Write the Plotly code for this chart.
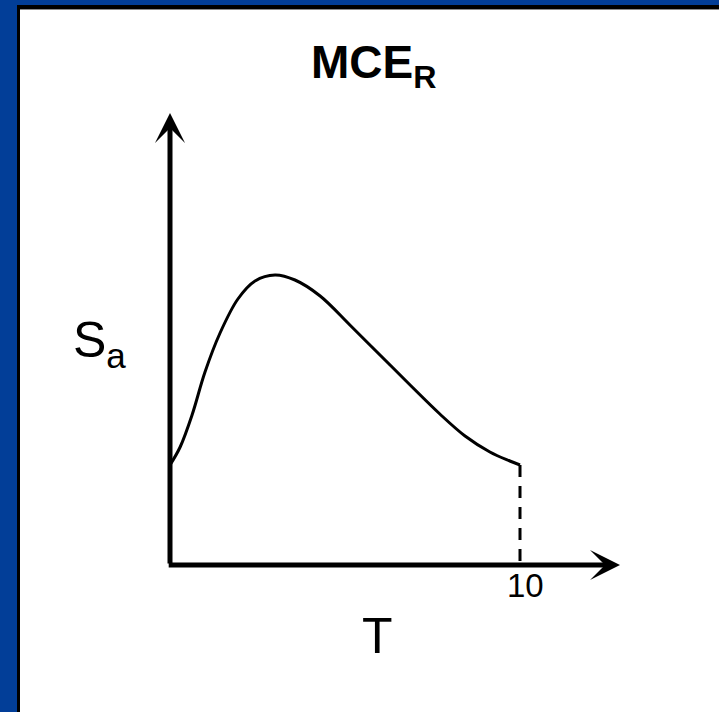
import plotly.graph_objects as go

# response spectrum sketch (T in s, Sa arbitrary units)
period = [0, 0.29, 0.63, 1.0, 1.43, 1.94, 2.43, 3.0, 3.57, 4.29, 5.14,
          6.0, 6.86, 7.71, 8.43, 9.14, 9.71, 10]
sa = [1.00, 1.18, 1.50, 1.93, 2.32, 2.66, 2.84, 2.90, 2.85, 2.69, 2.40,
      2.10, 1.80, 1.51, 1.29, 1.13, 1.04, 1.00]
tick_labels = ["10"]
tick_vals = [10]

W, H = 719, 712
# pixel scale: 35 px per T unit, 100 px per Sa unit, origin at (170, 565)
x0_px, y0_px, sx, sy = 170, 565, 35, 100
xr = [-x0_px / sx, (W - x0_px) / sx]
yr = [(y0_px - H) / sy, y0_px / sy]

fig = go.Figure()

fig.add_trace(go.Scatter(
    x=period, y=sa, mode="lines",
    line=dict(color="black", width=3, shape="spline", smoothing=1.0),
    hoverinfo="skip", showlegend=False
))

# dashed drop from the end of the curve to the T axis
fig.add_trace(go.Scatter(
    x=[period[-1], period[-1]], y=[sa[-1], 0], mode="lines",
    line=dict(color="black", width=3, dash="12px,9px"),
    hoverinfo="skip", showlegend=False
))

font = "Liberation Sans, Arial, sans-serif"
ann = []
# axes with arrow heads
ann.append(dict(x=0, y=(y0_px - 113) / sy, ax=0, ay=0, xref="x", yref="y",
                axref="x", ayref="y", text="", showarrow=True,
                arrowhead=3, arrowsize=1, arrowwidth=5, arrowcolor="black"))
ann.append(dict(x=(620 - x0_px) / sx, y=0, ax=-0.08, ay=0, xref="x", yref="y",
                axref="x", ayref="y", text="", showarrow=True,
                arrowhead=3, arrowsize=1, arrowwidth=5, arrowcolor="black"))
# tick label
for tv, tl in zip(tick_vals, tick_labels):
    ann.append(dict(x=tv + 0.15, y=-0.20, xref="x", yref="y", text=tl,
                    showarrow=False, font=dict(family=font, size=33, color="black")))
ann.append(dict(x=(377 - x0_px) / sx, y=(y0_px - 636) / sy, xref="x", yref="y",
                text="T", showarrow=False,
                font=dict(family=font, size=50, color="black")))
ann.append(dict(x=(99 - x0_px) / sx, y=(y0_px - 343) / sy, xref="x", yref="y",
                text="S<sub>a</sub>", showarrow=False,
                font=dict(family=font, size=50, color="black")))
ann.append(dict(x=373 / W, y=1 - 34 / H, xref="paper", yref="paper",
                text="<b>MCE<sub>R</sub></b>", showarrow=False,
                font=dict(family=font, size=46, color="black")))

blue = "#023e98"
shapes = [
    dict(type="rect", xref="paper", yref="paper", x0=0, x1=17 / W, y0=0, y1=1,
         fillcolor=blue, line_width=0, layer="above"),
    dict(type="rect", xref="paper", yref="paper", x0=0, x1=1, y0=1 - 5 / H, y1=1,
         fillcolor=blue, line_width=0, layer="above"),
    dict(type="rect", xref="paper", yref="paper", x0=17 / W, x1=20 / W, y0=0, y1=1 - 5 / H,
         fillcolor="black", line_width=0, layer="above"),
    dict(type="rect", xref="paper", yref="paper", x0=17 / W, x1=1, y0=1 - 9 / H, y1=1 - 5 / H,
         fillcolor="black", line_width=0, layer="above"),
    dict(type="rect", xref="paper", yref="paper", x0=20 / W, x1=1, y0=1 - 10 / H, y1=1 - 9 / H,
         fillcolor="#8a8a8a", line_width=0, layer="above"),
]

fig.update_layout(
    width=W, height=H,
    margin=dict(l=0, r=0, t=0, b=0),
    paper_bgcolor="white", plot_bgcolor="white",
    xaxis=dict(range=xr, visible=False, fixedrange=True),
    yaxis=dict(range=yr, visible=False, fixedrange=True),
    annotations=ann, shapes=shapes, showlegend=False
)

# drop the default page margin so the figure fills the window
fig.write_html("out.html", config={"displayModeBar": False},
               post_script="document.body.style.margin='0';")
